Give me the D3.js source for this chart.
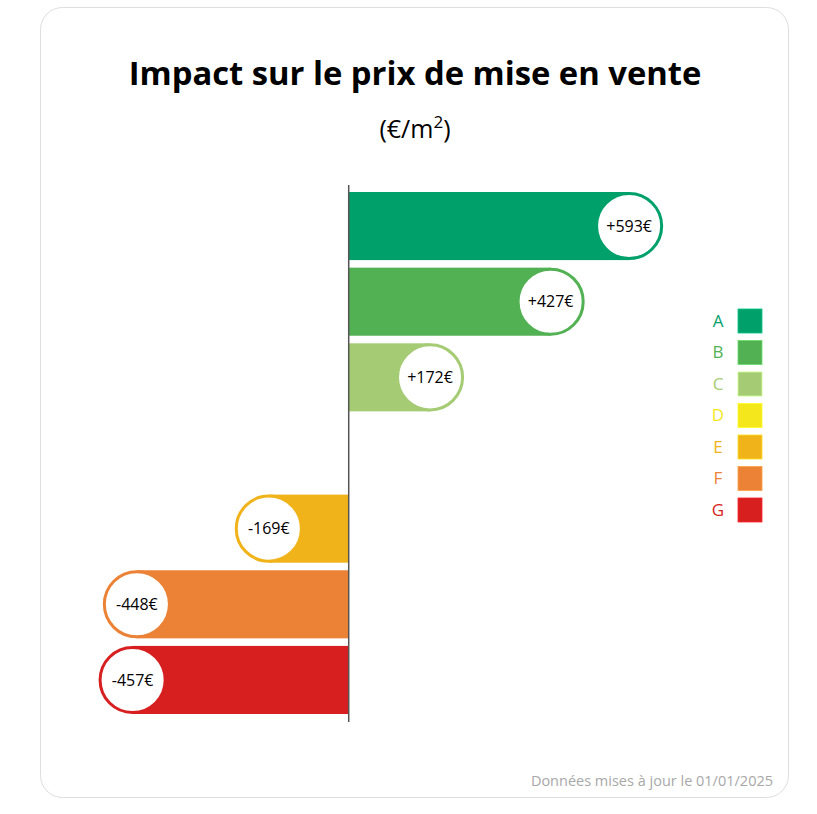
<!DOCTYPE html>
<html>
<head>
<meta charset="utf-8">
<script src="https://cdn.jsdelivr.net/npm/d3@7"></script>
<style>
  html, body { margin: 0; padding: 0; background: #fff; }
  svg { display: block; font-family: "Open Sans", "Noto Sans", sans-serif; }
</style>
</head>
<body>
<svg id="chart" width="817" height="814"></svg>
<script>
// ── Data ──
const classes = ["A", "B", "C", "D", "E", "F", "G"];
const impacts = [593, 427, 172, null, -169, -448, -457];
const classColors = ["#00a06b", "#52b153", "#a5cc74", "#f4e71c", "#f0b41a", "#eb8235", "#d71f20"];
const titleText = "Impact sur le prix de mise en vente";
const footerText = "Données mises à jour le 01/01/2025";

const svg = d3.select("#chart");

// card
svg.append("rect")
  .attr("x", 40.5).attr("y", 7.5).attr("width", 748).attr("height", 790)
  .attr("rx", 22).attr("fill", "#fff").attr("stroke", "#dedede").attr("stroke-width", 1);

// title, squeezed to the reference width
const title = svg.append("text")
  .attr("x", 415).attr("y", 85)
  .attr("text-anchor", "middle")
  .style("font-weight", "700").style("font-size", "33px").style("fill", "#000")
  .text(titleText);
const tw = title.node().getComputedTextLength();
if (tw > 573) title.style("font-size", `${33 * 573 / tw}px`);

// subtitle (€/m²)
const sub = svg.append("text")
  .attr("x", 415).attr("y", 138)
  .attr("text-anchor", "middle")
  .style("font-size", "25px").style("fill", "#000");
sub.append("tspan").text("(€/m");
sub.append("tspan").attr("dy", -10).style("font-size", "17px").text("2");
sub.append("tspan").attr("dy", 10).text(")");

// ── Scales ──
const x = d3.scaleLinear().domain([-600, 800]).range([65, 727]);
const y = d3.scaleBand().domain(classes).range([192, 714]).paddingInner(0.1).paddingOuter(0);
const color = d3.scaleOrdinal().domain(classes).range(classColors);

const rows = classes.map((c, i) => ({ cls: c, v: impacts[i] })).filter(d => d.v != null);
const bh = y.bandwidth();

const bars = svg.append("g").selectAll("g").data(rows).join("g");

bars.append("rect")
  .attr("x", d => Math.min(x(0), x(d.v)))
  .attr("y", d => y(d.cls))
  .attr("width", d => Math.abs(x(d.v) - x(0)))
  .attr("height", bh)
  .attr("fill", d => color(d.cls));

bars.append("circle")
  .attr("cx", d => x(d.v))
  .attr("cy", d => y(d.cls) + bh / 2)
  .attr("r", bh / 2 - 1.5)
  .attr("fill", "#fff")
  .attr("stroke", d => color(d.cls))
  .attr("stroke-width", 3);

bars.append("text")
  .attr("x", d => x(d.v))
  .attr("y", d => y(d.cls) + bh / 2)
  .attr("dy", "0.35em")
  .attr("text-anchor", "middle")
  .style("font-size", "16px").style("fill", "#000")
  .text(d => (d.v > 0 ? "+" : "") + d.v + "€");

// zero axis
svg.append("line")
  .attr("x1", x(0)).attr("x2", x(0))
  .attr("y1", 185).attr("y2", 722)
  .attr("stroke", "#555").attr("stroke-width", 1.5);

// ── Legend ──
const ly = d3.scaleBand().domain(classes).range([309, 522]).paddingInner(0.238).paddingOuter(0);
const leg = svg.append("g").selectAll("g").data(classes).join("g");
leg.append("rect")
  .attr("x", 738).attr("y", d => ly(d))
  .attr("width", 24).attr("height", ly.bandwidth())
  .attr("fill", d => color(d))
  .attr("stroke", d => d3.color(color(d)).brighter(0.6)).attr("stroke-width", 0.8);
leg.append("text")
  .attr("x", 718).attr("y", d => ly(d) + ly.bandwidth() / 2)
  .attr("dy", "0.35em").attr("text-anchor", "middle")
  .style("font-size", "17px").style("fill", d => color(d))
  .text(d => d);

// footer
svg.append("text")
  .attr("x", 773).attr("y", 786)
  .attr("text-anchor", "end")
  .style("font-size", "14.5px").style("fill", "#a8a8a8")
  .text(footerText);
</script>
</body>
</html>
